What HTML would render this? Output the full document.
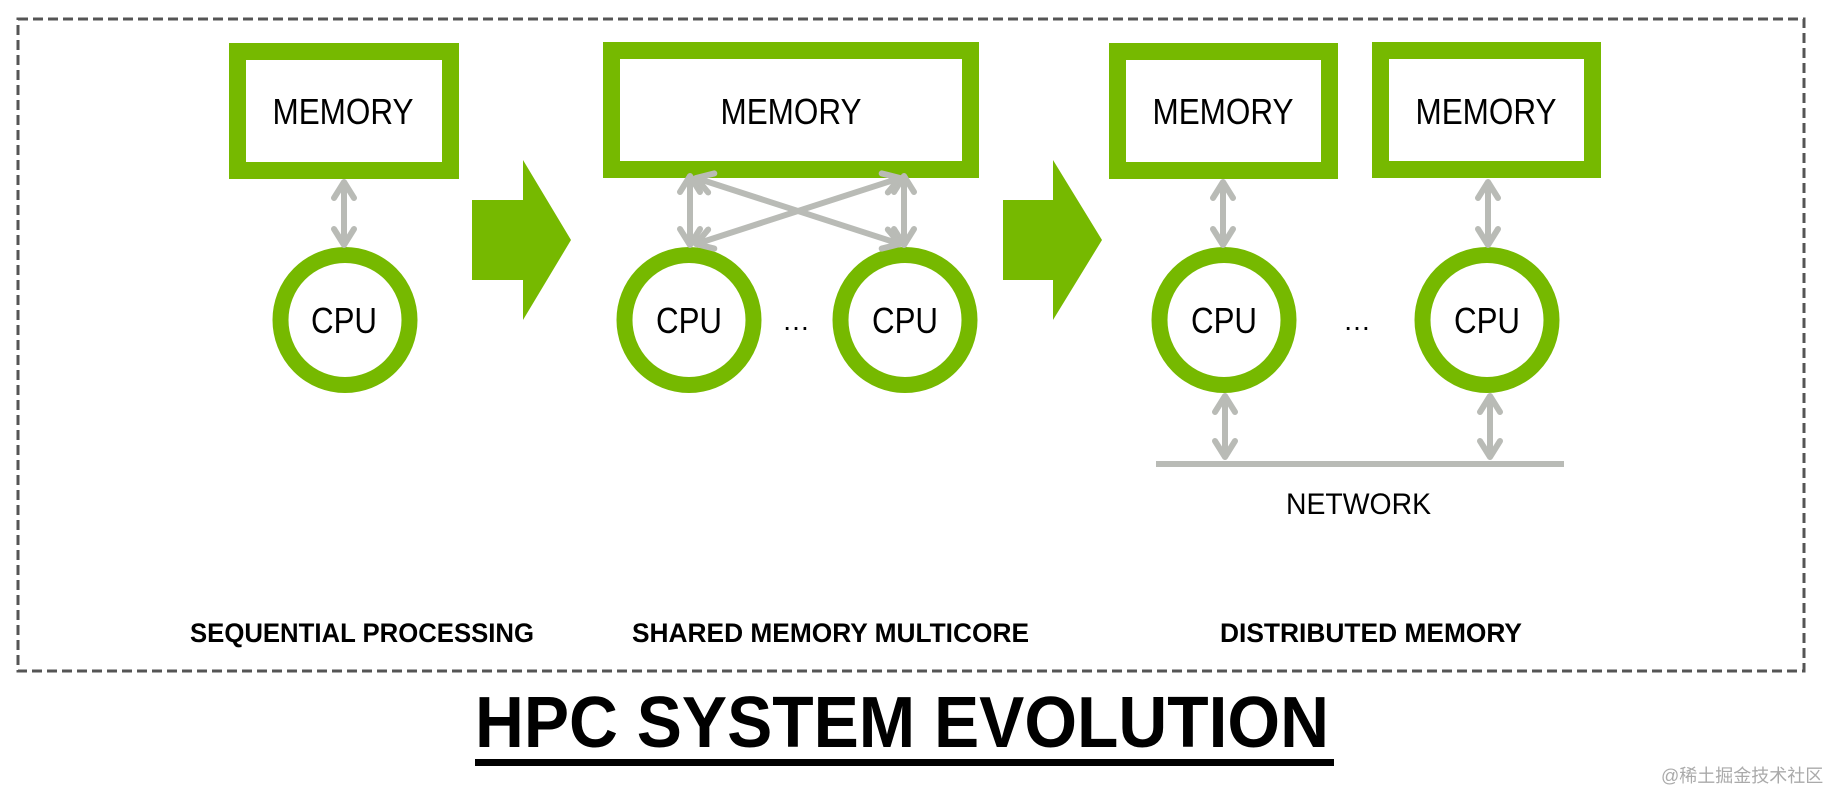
<!DOCTYPE html>
<html><head><meta charset="utf-8"><style>
html,body{margin:0;padding:0;background:#fff;width:1828px;height:797px;overflow:hidden}
svg{display:block}
</style></head><body>
<svg width="1828" height="797" viewBox="0 0 1828 797" xmlns="http://www.w3.org/2000/svg">
<defs>
<marker id="a" markerUnits="userSpaceOnUse" markerWidth="30" markerHeight="30" refX="20" refY="15" orient="auto-start-reverse" viewBox="0 0 30 30">
<path d="M4 5 L20 15 L4 25" fill="none" stroke="#b9bbb6" stroke-width="6" stroke-linecap="round" stroke-linejoin="round"/>
</marker>
</defs>
<rect x="18" y="19" width="1786" height="652" fill="none" stroke="#555" stroke-width="3" stroke-dasharray="10 5"/>
<g fill="none" stroke="#76b900" stroke-width="17">
<rect x="237.5" y="51.5" width="213" height="119"/>
<rect x="611.5" y="50.5" width="359" height="119"/>
<rect x="1117.5" y="51.5" width="212" height="119"/>
<rect x="1380.5" y="50.5" width="212" height="119"/>
<g stroke-width="16">
<ellipse cx="345" cy="320" rx="64.5" ry="65"/>
<ellipse cx="689" cy="320" rx="64.5" ry="65"/>
<ellipse cx="905" cy="320" rx="64.5" ry="65"/>
<ellipse cx="1224" cy="320" rx="64.5" ry="65"/>
<ellipse cx="1487" cy="320" rx="64.5" ry="65"/>
</g>
</g>
<g fill="#76b900">
<polygon points="472,200 523,200 523,160 571,240 523,320 523,280 472,280"/>
<polygon points="1003,200 1053,200 1053,160 1102,240 1053,320 1053,280 1003,280"/>
</g>
<g stroke="#b9bbb6" stroke-width="6" marker-start="url(#a)" marker-end="url(#a)">
<line x1="344" y1="182" x2="344" y2="245"/>
<line x1="690" y1="176" x2="690" y2="245"/>
<line x1="904" y1="176" x2="904" y2="245"/>
<line x1="696" y1="178" x2="900" y2="244"/>
<line x1="900" y1="178" x2="696" y2="244"/>
<line x1="1223" y1="182" x2="1223" y2="245"/>
<line x1="1488" y1="182" x2="1488" y2="245"/>
<line x1="1225" y1="396" x2="1225" y2="457"/>
<line x1="1490" y1="396" x2="1490" y2="457"/>
</g>
<rect x="1156" y="461" width="408" height="6" fill="#b9bbb6"/>
<g font-family="Liberation Sans, sans-serif" fill="#000">
<g font-size="36" text-anchor="middle">
<text x="343" y="124" textLength="141" lengthAdjust="spacingAndGlyphs">MEMORY</text>
<text x="791" y="124" textLength="141" lengthAdjust="spacingAndGlyphs">MEMORY</text>
<text x="1223" y="124" textLength="141" lengthAdjust="spacingAndGlyphs">MEMORY</text>
<text x="1486" y="124" textLength="141" lengthAdjust="spacingAndGlyphs">MEMORY</text>
<text x="344" y="333" textLength="66" lengthAdjust="spacingAndGlyphs">CPU</text>
<text x="689" y="333" textLength="66" lengthAdjust="spacingAndGlyphs">CPU</text>
<text x="905" y="333" textLength="66" lengthAdjust="spacingAndGlyphs">CPU</text>
<text x="1224" y="333" textLength="66" lengthAdjust="spacingAndGlyphs">CPU</text>
<text x="1487" y="333" textLength="66" lengthAdjust="spacingAndGlyphs">CPU</text>
<text x="796" y="330" font-size="28">…</text>
<text x="1357" y="330" font-size="28">…</text>
</g>
<text x="1286" y="514" font-size="30" textLength="145" lengthAdjust="spacingAndGlyphs">NETWORK</text>
<g font-size="27" font-weight="bold">
<text x="190" y="642" textLength="344" lengthAdjust="spacingAndGlyphs">SEQUENTIAL PROCESSING</text>
<text x="632" y="642" textLength="397" lengthAdjust="spacingAndGlyphs">SHARED MEMORY MULTICORE</text>
<text x="1220" y="642" textLength="302" lengthAdjust="spacingAndGlyphs">DISTRIBUTED MEMORY</text>
</g>
<text x="475" y="747" font-size="72" font-weight="bold" textLength="854" lengthAdjust="spacingAndGlyphs">HPC SYSTEM EVOLUTION</text>
<rect x="475" y="759" width="859" height="7"/>
<text x="1661" y="782" font-size="18" fill="#aaa" font-family="Liberation Sans, Noto Sans CJK SC, sans-serif">@稀土掘金技术社区</text>
</g>
</svg>
</body></html>
